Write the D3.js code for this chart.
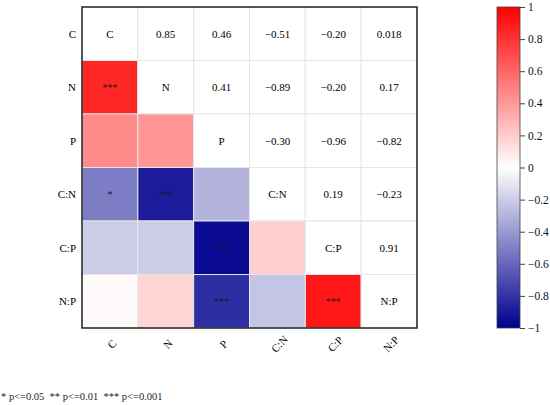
<!DOCTYPE html>
<html>
<head>
<meta charset="utf-8">
<script src="https://cdn.jsdelivr.net/npm/d3@7"></script>
<style>
  body { margin: 0; background: #fff; }
  text { font-family: "Liberation Serif", "Times New Roman", serif; }
</style>
</head>
<body>
<svg id="chart" width="550" height="405"></svg>
<script>
// variables shown on both axes
var vars = ['C', 'N', 'P', 'C:N', 'C:P', 'N:P'];

// correlation coefficients, row by row (symmetric)
var rC  = [1,     0.85,  0.46, -0.51, -0.20,  0.018];
var rN  = [0.85,  1,     0.41, -0.89, -0.20,  0.17];
var rP  = [0.46,  0.41,  1,    -0.30, -0.96, -0.82];
var rCN = [-0.51, -0.89, -0.30, 1,     0.19, -0.23];
var rCP = [-0.20, -0.20, -0.96, 0.19,  1,     0.91];
var rNP = [0.018, 0.17, -0.82, -0.23,  0.91,  1];
var corr = [rC, rN, rP, rCN, rCP, rNP];

// significance marks for the lower triangle
var sigN  = ['***'];
var sigP  = ['', ''];
var sigCN = ['*', '***', ''];
var sigCP = ['', '', '***', ''];
var sigNP = ['', '', '***', '', '***'];
var stars = [[], sigN, sigP, sigCN, sigCP, sigNP];

var footnote = '* p<=0.05  ** p<=0.01  *** p<=0.001';
var legendTicks = [-1, -0.8, -0.6, -0.4, -0.2, 0, 0.2, 0.4, 0.6, 0.8, 1];

var svg = d3.select('#chart');
var gLeft = 82, gTop = 7, w = 335, h = 321;

var x = d3.scaleBand().domain(vars).range([gLeft, gLeft + w]);
var y = d3.scaleBand().domain(vars).range([gTop, gTop + h]);

var color = d3.scaleLinear()
  .domain([-1, 0, 1])
  .range(['#00008f', '#ffffff', '#ff0000'])
  .interpolate(d3.interpolateRgb);

var fmt = function(v) {
  return Math.abs(v) < 0.1 ? d3.format('.2r')(v) : d3.format('.2f')(v);
};

var cells = [];
vars.forEach(function(rv, i) {
  vars.forEach(function(cv, j) {
    cells.push({row: rv, col: cv, i: i, j: j, r: corr[i][j],
      star: j < i ? (stars[i][j] || '') : ''});
  });
});

var cell = svg.append('g').selectAll('g')
  .data(cells)
  .enter().append('g')
  .attr('transform', function(d) { return 'translate(' + x(d.col) + ',' + y(d.row) + ')'; });

cell.append('rect')
  .attr('width', x.bandwidth())
  .attr('height', y.bandwidth())
  .attr('fill', function(d) { return d.j < d.i ? color(d.r) : '#fff'; })
  .attr('stroke', '#e6e6e6')
  .attr('stroke-width', 1);

cell.append('text')
  .attr('x', x.bandwidth() / 2)
  .attr('y', y.bandwidth() / 2)
  .attr('dy', '0.35em')
  .attr('text-anchor', 'middle')
  .attr('font-size', function(d) { return d.j < d.i ? 10 : 11; })
  .attr('fill', function(d) { return d.j < d.i ? '#1a1a1a' : '#000'; })
  .text(function(d) {
    if (d.i === d.j) return d.row;
    if (d.j > d.i) return fmt(d.r);
    return d.star;
  });

// outer frame
svg.append('rect')
  .attr('x', gLeft).attr('y', gTop)
  .attr('width', w).attr('height', h)
  .attr('fill', 'none')
  .attr('stroke', '#222')
  .attr('stroke-width', 1.5);

// row labels
svg.append('g').selectAll('text')
  .data(vars)
  .enter().append('text')
  .attr('x', gLeft - 6)
  .attr('y', function(d) { return y(d) + y.bandwidth() / 2; })
  .attr('dy', '0.35em')
  .attr('text-anchor', 'end')
  .attr('font-size', 11)
  .text(function(d) { return d; });

// column labels, rotated
svg.append('g').selectAll('text')
  .data(vars)
  .enter().append('text')
  .attr('transform', function(d) {
    return 'translate(' + (x(d) + x.bandwidth() / 2 + 2) + ',' + (gTop + h + 16) + ') rotate(-45)';
  })
  .attr('dy', '0.35em')
  .attr('text-anchor', 'middle')
  .attr('font-size', 11)
  .text(function(d) { return d; });

// colour bar
var barX = 497, barW = 23;
var ly = d3.scaleLinear().domain([-1, 1]).range([gTop + h, gTop]);

var grad = svg.append('defs').append('linearGradient')
  .attr('id', 'grad')
  .attr('x1', 0).attr('y1', 1).attr('x2', 0).attr('y2', 0);
d3.range(0, 1.0001, 0.05).forEach(function(t) {
  grad.append('stop')
    .attr('offset', t)
    .attr('stop-color', color(-1 + 2 * t));
});

svg.append('rect')
  .attr('x', barX).attr('y', gTop)
  .attr('width', barW).attr('height', h)
  .attr('fill', 'url(#grad)')
  .attr('stroke', '#444')
  .attr('stroke-width', 0.8);

var legendAxis = svg.append('g')
  .attr('transform', 'translate(' + (barX + barW) + ',0)')
  .call(d3.axisRight(ly)
    .tickValues(legendTicks)
    .tickSize(5)
    .tickPadding(3)
    .tickFormat(d3.format('')));
legendAxis.select('.domain').remove();
legendAxis.selectAll('line').attr('stroke', '#444');
legendAxis.selectAll('text')
  .attr('font-size', 11.5)
  .attr('fill', '#111');

svg.append('text')
  .attr('x', 1)
  .attr('y', 400)
  .attr('font-size', 10.5)
  .attr('fill', '#222')
  .style('white-space', 'pre')
  .text(footnote);
</script>
</body>
</html>
